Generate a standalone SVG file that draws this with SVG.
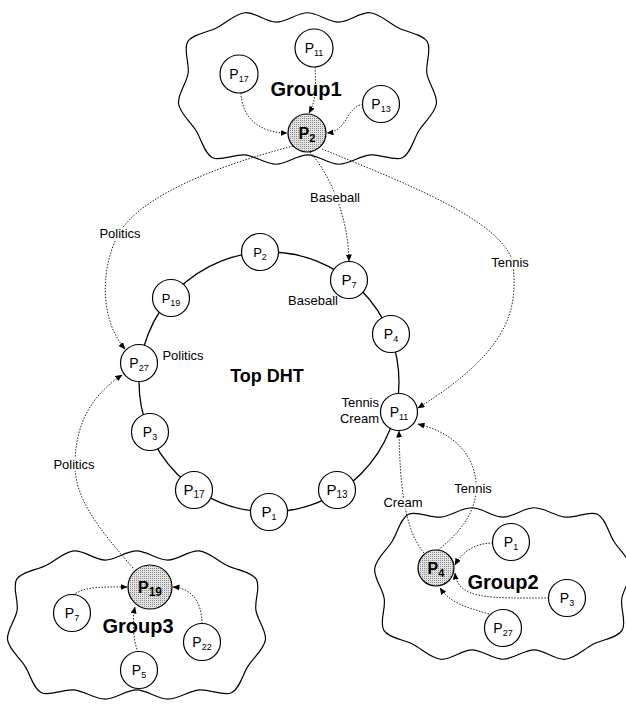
<svg xmlns="http://www.w3.org/2000/svg" width="626" height="704" viewBox="0 0 626 704">
<defs>
<style>
text{font-family:"Liberation Sans",Arial,sans-serif;fill:#000}
.node{fill:#fff;stroke:#000;stroke-width:1.2}
.shaded{fill:url(#dots);stroke:#000;stroke-width:1.2}
.n{font-size:14px;text-anchor:middle}
.sub{font-size:9px}
.b{font-size:16px;font-weight:bold;text-anchor:middle}
.bsub{font-size:11px}
.lbl{font-size:13px}
.elbl{font-size:13px;text-anchor:middle;stroke:#fff;stroke-width:4;paint-order:stroke;stroke-linejoin:round}
.grp{font-size:20px;font-weight:bold;text-anchor:middle}
.cloud{fill:#fff;stroke:#000;stroke-width:1.2}
.ring{fill:none;stroke:#000;stroke-width:1.3}
.c{fill:none;stroke:#222;stroke-width:1;stroke-dasharray:1.5 1.5;marker-end:url(#ah)}
</style>
<pattern id="dots" width="2" height="2" patternUnits="userSpaceOnUse"><rect width="2" height="2" fill="#e2e2e2"/><rect width="1" height="1" fill="#8c8c8c"/></pattern>
<marker id="ah" markerWidth="7" markerHeight="6" refX="6.5" refY="3" orient="auto" markerUnits="userSpaceOnUse"><path d="M0,0 L7,3 L0,6 z" fill="#000"/></marker>
<path id="cloud" vector-effect="non-scaling-stroke" d="M0,-81 C10.93,-81 21.88,-71 32.8,-71 C43.72,-71 55.15,-82 65.5,-81 C75.85,-80 84.92,-70.15 94.9,-65 C104.88,-59.85 120.38,-58.22 125.4,-50.1 C130.42,-41.98 123.4,-27.37 125,-16.3 C126.6,-5.23 136.37,6.1 135,16.3 C133.63,26.5 122.72,35.28 116.8,44.9 C110.88,54.52 108.03,69.65 99.5,74 C90.97,78.35 76.72,69.83 65.6,71 C54.48,72.17 43.73,81 32.8,81 C21.87,81 10.93,71 0,71 C-10.93,71 -21.87,81 -32.8,81 C-43.73,81 -54.48,72.17 -65.6,71 C-76.72,69.83 -90.97,78.35 -99.5,74 C-108.03,69.65 -110.88,54.52 -116.8,44.9 C-122.72,35.28 -133.63,26.5 -135,16.3 C-136.37,6.1 -126.6,-5.23 -125,-16.3 C-123.4,-27.37 -130.42,-41.98 -125.4,-50.1 C-120.38,-58.22 -104.88,-59.85 -94.9,-65 C-84.92,-70.15 -75.85,-80 -65.5,-81 C-55.15,-82 -43.72,-71 -32.8,-71 C-21.88,-71 -10.93,-81 0,-81 Z"/>
</defs>
<rect width="626" height="704" fill="#fff"/>

<g id="clouds">
<use id="cloud-group1" href="#cloud" class="cloud" transform="translate(307.5,88.5) scale(0.955,0.935)"/>
<use id="cloud-group3" href="#cloud" class="cloud" transform="translate(136.5,625) scale(-0.955,0.915)"/>
<use id="cloud-group2" href="#cloud" class="cloud" transform="translate(503,583.5) scale(0.95,-0.935)"/>
</g>

<g id="ring">
<circle cx="269" cy="382" r="130" class="ring"/>
<text x="267" y="382" style="font-size:18px;font-weight:bold;text-anchor:middle">Top DHT</text>
</g>

<g id="connectors">
<path class="c" d="M315,67 C316,90 316,100 309,113"/>
<path class="c" d="M241,93 C242,120 262,133 287,133"/>
<path class="c" d="M363,104 C345,108 348,131 327,133"/>
<path class="c" d="M73,595 C85,586 105,587 127,587"/>
<path class="c" d="M202,624 C202,600 190,588 173,587"/>
<path class="c" d="M138,652 C133,640 132,620 135,607"/>
<path class="c" d="M493,543 C475,543 462,552 455,565"/>
<path class="c" d="M549,598 C490,598 458,600 455,573"/>
<path class="c" d="M489,614 C470,608 452,605 440,588"/>
<path class="c" d="M293,146 C220,165 140,195 118,235 C100,270 100,320 125,349"/>
<path class="c" d="M310,152 C330,175 348,215 349,261"/>
<path class="c" d="M322,149 C410,185 500,220 513,262 C516,300 520,345 418,408"/>
<path class="c" d="M133,568 C100,530 75,500 75,465 C75,420 95,393 122,375"/>
<path class="c" d="M424,553 C405,530 400,490 399,431"/>
<path class="c" d="M438,550 C470,525 480,500 475,475 C470,450 450,432 418,424"/>
</g>

<g id="edge-labels">
<text class="elbl" x="120" y="238">Politics</text>
<text class="elbl" x="335" y="202">Baseball</text>
<text class="elbl" x="510" y="267">Tennis</text>
<text class="elbl" x="74" y="469">Politics</text>
<text class="elbl" x="403" y="507">Cream</text>
<text class="elbl" x="473" y="493">Tennis</text>
</g>

<g id="ring-labels">
<text class="lbl" x="313" y="305" text-anchor="middle">Baseball</text>
<text class="lbl" x="183" y="360" text-anchor="middle">Politics</text>
<text class="lbl" x="379" y="407" text-anchor="end">Tennis</text>
<text class="lbl" x="379" y="423" text-anchor="end">Cream</text>
</g>

<g id="group1">
<text class="grp" x="306" y="96">Group1</text>
<g id="g1-P11"><circle cx="314" cy="48" r="19" class="node"/><text class="n" x="314" y="53">P<tspan class="sub" dy="3">11</tspan></text></g>
<g id="g1-P17"><circle cx="239" cy="74" r="19" class="node"/><text class="n" x="239" y="79">P<tspan class="sub" dy="3">17</tspan></text></g>
<g id="g1-P13"><circle cx="381" cy="104" r="18.5" class="node"/><text class="n" x="381" y="109">P<tspan class="sub" dy="3">13</tspan></text></g>
<g id="g1-P2"><circle cx="307" cy="133" r="19" class="shaded"/><text class="b" x="307" y="139">P<tspan class="bsub" dy="3">2</tspan></text></g>
</g>

<g id="group3">
<text class="grp" x="138" y="633">Group3</text>
<g id="g3-P19"><circle cx="150" cy="587" r="22" class="shaded"/><text class="b" x="150" y="593">P<tspan class="bsub" style="font-size:12px" dy="3">19</tspan></text></g>
<g id="g3-P7"><circle cx="72" cy="613" r="18.5" class="node"/><text class="n" x="72" y="618">P<tspan class="sub" dy="3">7</tspan></text></g>
<g id="g3-P22"><circle cx="202" cy="642" r="18.5" class="node"/><text class="n" x="202" y="647">P<tspan class="sub" dy="3">22</tspan></text></g>
<g id="g3-P5"><circle cx="139" cy="670" r="18.5" class="node"/><text class="n" x="139" y="675">P<tspan class="sub" dy="3">5</tspan></text></g>
</g>

<g id="group2">
<text class="grp" x="503" y="589">Group2</text>
<g id="g2-P4"><circle cx="436" cy="568" r="18" class="shaded"/><text class="b" x="436" y="574">P<tspan class="bsub" dy="3">4</tspan></text></g>
<g id="g2-P1"><circle cx="511" cy="542" r="18.5" class="node"/><text class="n" x="511" y="547">P<tspan class="sub" dy="3">1</tspan></text></g>
<g id="g2-P3"><circle cx="567" cy="598" r="18.5" class="node"/><text class="n" x="567" y="603">P<tspan class="sub" dy="3">3</tspan></text></g>
<g id="g2-P27"><circle cx="503" cy="628" r="18.5" class="node"/><text class="n" x="503" y="633">P<tspan class="sub" dy="3">27</tspan></text></g>
</g>

<g id="ring-nodes">
<g id="r-P2"><circle cx="260" cy="252" r="18.5" class="node"/><text class="n" x="260" y="257" style="font-size:13px">P<tspan class="sub" dy="3">2</tspan></text></g>
<g id="r-P19"><circle cx="171" cy="298" r="18.5" class="node"/><text class="n" x="171" y="303" style="font-size:13px">P<tspan class="sub" dy="3">19</tspan></text></g>
<g id="r-P27"><circle cx="139" cy="363" r="18.5" class="node"/><text class="n" x="139" y="368">P<tspan class="sub" dy="3">27</tspan></text></g>
<g id="r-P3"><circle cx="150" cy="432" r="18.5" class="node"/><text class="n" x="150" y="437">P<tspan class="sub" dy="3">3</tspan></text></g>
<g id="r-P17"><circle cx="194" cy="490" r="18.5" class="node"/><text class="n" x="194" y="495" style="font-size:15px">P<tspan class="sub" style="font-size:10px" dy="3">17</tspan></text></g>
<g id="r-P1"><circle cx="269" cy="512" r="18.5" class="node"/><text class="n" x="269" y="517" style="font-size:15px">P<tspan class="sub" dy="3">1</tspan></text></g>
<g id="r-P13"><circle cx="337" cy="490" r="18.5" class="node"/><text class="n" x="337" y="495" style="font-size:15px">P<tspan class="sub" style="font-size:10px" dy="3">13</tspan></text></g>
<g id="r-P11"><circle cx="399" cy="412" r="18.5" class="node"/><text class="n" x="399" y="417">P<tspan class="sub" dy="3">11</tspan></text></g>
<g id="r-P4"><circle cx="391" cy="334" r="18.5" class="node"/><text class="n" x="391" y="339">P<tspan class="sub" dy="3">4</tspan></text></g>
<g id="r-P7"><circle cx="349" cy="280" r="18.5" class="node"/><text class="n" x="349" y="285" style="font-size:15px">P<tspan class="sub" dy="3">7</tspan></text></g>
</g>
</svg>
